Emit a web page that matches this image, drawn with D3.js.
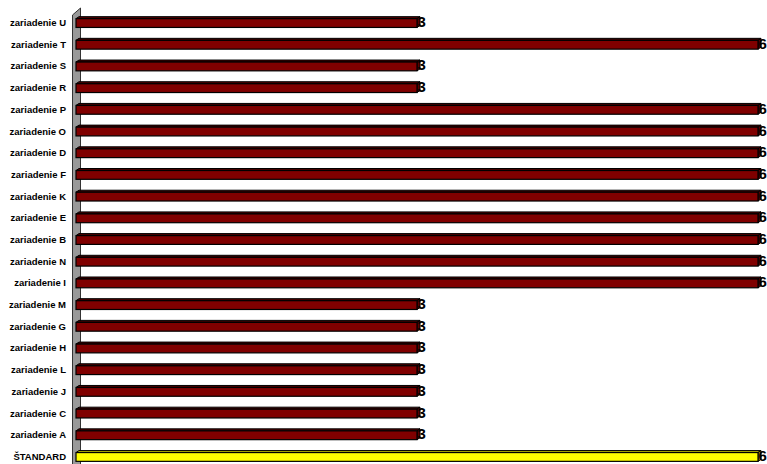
<!DOCTYPE html>
<html>
<head>
<meta charset="utf-8">
<script src="https://cdn.jsdelivr.net/npm/d3@7"></script>
<style>
  html, body { margin: 0; padding: 0; background: #fff; }
  svg { display: block; }
</style>
</head>
<body>
<svg id="chart" width="767" height="464"></svg>
<script>
// Categories from top to bottom
const categories = [
  "zariadenie U", "zariadenie T", "zariadenie S", "zariadenie R", "zariadenie P",
  "zariadenie O", "zariadenie D", "zariadenie F", "zariadenie K", "zariadenie E",
  "zariadenie B", "zariadenie N", "zariadenie I", "zariadenie M", "zariadenie G",
  "zariadenie H", "zariadenie L", "zariadenie J", "zariadenie C", "zariadenie A",
  "ŠTANDARD"
];
const values = [3, 6, 3, 3, 6, 6, 6, 6, 6, 6, 6, 6, 6, 3, 3, 3, 3, 3, 3, 3, 6];
const standardLabel = "ŠTANDARD";

const svg = d3.select("#chart");
const W = 767, H = 464;

const x0 = 76;
const x = d3.scaleLinear().domain([0, 6]).range([x0, 758]);
const y = d3.scaleBand().domain(categories).range([11.2, 466.8]).padding(0);

// 3D depth of bars
const dx = 3, dy = 2;
const barH = 8.8;

// Side wall
svg.append("path")
  .attr("d", `M72.5,15 L80.5,8 L80.5,${H + 2} L72.5,${H + 2} Z`)
  .attr("fill", "#999999")
  .attr("stroke", "#333")
  .attr("stroke-width", 1);

const palette = cat => cat === standardLabel
  ? { front: "#ffff00", top: "#b3b300", side: "#999900" }
  : { front: "#800000", top: "#4d0000", side: "#5a0000" };

const data = categories.map((c, i) => ({ cat: c, val: values[i] }));

const bars = svg.append("g").selectAll("g.bar")
  .data(data)
  .join("g").attr("class", "bar");

bars.each(function(d) {
  const g = d3.select(this);
  const c = palette(d.cat);
  const cy = y(d.cat) + y.bandwidth() / 2;
  const top = cy - barH / 2 + dy / 2;
  const bot = top + barH;
  const xe = x(d.val);
  // top face
  g.append("path")
    .attr("d", `M${x0},${top} L${x0 + dx},${top - dy} L${xe + dx},${top - dy} L${xe},${top} Z`)
    .attr("fill", c.top).attr("stroke", "#000").attr("stroke-width", 1);
  // end face
  g.append("path")
    .attr("d", `M${xe},${top} L${xe + dx},${top - dy} L${xe + dx},${bot - dy} L${xe},${bot} Z`)
    .attr("fill", c.side).attr("stroke", "#000").attr("stroke-width", 1);
  // front face
  g.append("rect")
    .attr("x", x0).attr("y", top)
    .attr("width", xe - x0).attr("height", barH)
    .attr("fill", c.front).attr("stroke", "#000").attr("stroke-width", 1.2);
});

// Value labels on top of everything
svg.append("g").selectAll("text")
  .data(data)
  .join("text")
  .attr("x", d => x(d.val) + 0.5)
  .attr("y", d => y(d.cat) + y.bandwidth() / 2 - 0.5)
  .attr("text-anchor", "start")
  .attr("dominant-baseline", "central")
  .attr("font-family", "Liberation Sans, Arial, sans-serif")
  .attr("font-weight", "bold")
  .attr("font-size", 15)
  .attr("fill", "#000")
  .text(d => d.val);

// Category labels
svg.append("g").selectAll("text")
  .data(categories)
  .join("text")
  .attr("x", 66)
  .attr("y", d => y(d) + y.bandwidth() / 2 + 0.5)
  .attr("text-anchor", "end")
  .attr("dominant-baseline", "central")
  .attr("font-family", "Liberation Sans, Arial, sans-serif")
  .attr("font-weight", "bold")
  .attr("font-size", 9.5)
  .attr("fill", "#000")
  .text(d => d);
</script>
</body>
</html>
